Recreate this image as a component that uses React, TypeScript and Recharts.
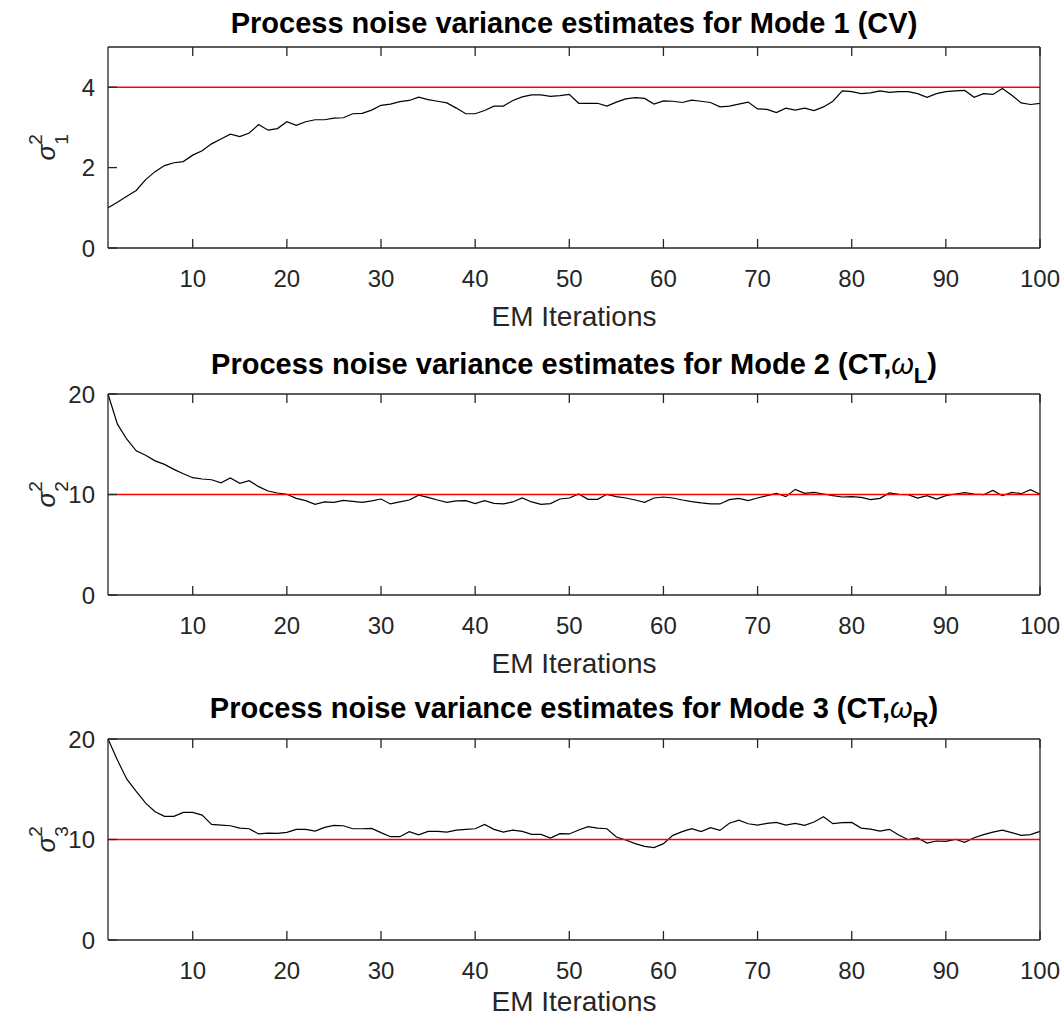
import { LineChart, Line, XAxis, YAxis, ReferenceLine } from 'recharts';

// EM iteration index (x categories)
const iterations = Array.from({ length: 100 }, (_, i) => i + 1);

const mode1 = [
  1.0, 1.14, 1.29, 1.43, 1.7, 1.9, 2.05, 2.12, 2.15, 2.31,
  2.42, 2.59, 2.71, 2.83, 2.77, 2.86, 3.07, 2.93, 2.97, 3.14,
  3.05, 3.14, 3.19, 3.19, 3.23, 3.24, 3.34, 3.35, 3.43, 3.55,
  3.58, 3.64, 3.67, 3.75, 3.69, 3.65, 3.61, 3.48, 3.34, 3.34,
  3.42, 3.53, 3.53, 3.67, 3.76, 3.81, 3.81, 3.77, 3.79, 3.82,
  3.6, 3.6, 3.6, 3.53, 3.63, 3.71, 3.74, 3.72, 3.58, 3.66,
  3.65, 3.62, 3.68, 3.65, 3.62, 3.51, 3.53, 3.58, 3.63, 3.46,
  3.45, 3.37, 3.48, 3.43, 3.48, 3.42, 3.51, 3.65, 3.91, 3.89,
  3.84, 3.86, 3.91, 3.87, 3.89, 3.89, 3.84, 3.75, 3.84, 3.89,
  3.91, 3.92, 3.75, 3.84, 3.82, 3.97, 3.8, 3.61, 3.57, 3.6,
];

const mode2 = [
  20.0, 17.0, 15.5, 14.35, 13.9, 13.35, 13.0, 12.5, 12.07, 11.67,
  11.54, 11.47, 11.17, 11.64, 11.11, 11.37, 10.78, 10.35, 10.15, 10.02,
  9.62, 9.39, 9.02, 9.26, 9.22, 9.42, 9.32, 9.22, 9.36, 9.55,
  9.06, 9.26, 9.45, 9.94, 9.72, 9.45, 9.22, 9.36, 9.39, 9.09,
  9.39, 9.12, 9.06, 9.26, 9.65, 9.26, 9.02, 9.09, 9.55, 9.65,
  10.05, 9.52, 9.52, 10.02, 9.79, 9.65, 9.45, 9.22, 9.65, 9.75,
  9.65, 9.45, 9.29, 9.16, 9.06, 9.06, 9.49, 9.62, 9.39, 9.65,
  9.88, 10.12, 9.79, 10.51, 10.12, 10.21, 10.05, 9.88, 9.75, 9.79,
  9.72, 9.49, 9.62, 10.15, 10.02, 9.98, 9.65, 9.88, 9.55, 9.88,
  10.05, 10.18, 10.05, 9.98, 10.41, 9.88, 10.21, 10.08, 10.48, 10.02,
];

const mode3 = [
  20.0, 17.9, 16.0, 14.78, 13.62, 12.76, 12.3, 12.3, 12.69, 12.69,
  12.43, 11.5, 11.44, 11.37, 11.14, 11.07, 10.55, 10.64, 10.61, 10.71,
  11.01, 11.01, 10.84, 11.21, 11.4, 11.37, 11.07, 11.07, 11.11, 10.68,
  10.28, 10.28, 10.78, 10.46, 10.81, 10.81, 10.74, 10.94, 11.01, 11.07,
  11.5, 11.01, 10.74, 10.94, 10.81, 10.51, 10.51, 10.15, 10.58, 10.55,
  10.94, 11.27, 11.14, 11.07, 10.25, 9.95, 9.59, 9.32, 9.19, 9.59,
  10.41, 10.78, 11.07, 10.78, 11.17, 10.91, 11.62, 11.93, 11.57, 11.44,
  11.6, 11.7, 11.44, 11.6, 11.4, 11.74, 12.26, 11.57, 11.67, 11.7,
  11.14, 11.04, 10.84, 11.01, 10.45, 9.98, 10.15, 9.65, 9.85, 9.82,
  10.02, 9.72, 10.18, 10.48, 10.74, 10.94, 10.68, 10.41, 10.48, 10.81,
];

// true process noise variances (red reference lines)
const trueVariance = [4, 10, 10];

const xTicks = [10, 20, 30, 40, 50, 60, 70, 80, 90, 100];
const yTicksMode1 = [0, 2, 4];
const yTicksMode23 = [0, 10, 20];

const AXIS = '#262626';
const FONT = '"Liberation Sans", Arial, Helvetica, sans-serif';
const TICK_LEN = 9;
const X_GAP = 22; // gap from axis to top of x tick labels
const Y_GAP = 13; // gap from axis to right edge of y tick labels

// inward ticks, MATLAB style
const BottomTick = (props: any) => {
  const { x, y, payload } = props;
  const ay = y - X_GAP;
  return (
    <g>
      <path d={`M${x},${ay}L${x},${ay - TICK_LEN}`} stroke={AXIS} strokeWidth={1.3} fill="none" />
      <text x={x} y={y} dy="0.71em" textAnchor="middle" fill={AXIS} fontSize={24} fontFamily={FONT}>
        {payload.value}
      </text>
    </g>
  );
};

const TopTick = (props: any) => {
  const { x, y } = props;
  return <path d={`M${x},${y}L${x},${y + TICK_LEN}`} stroke={AXIS} strokeWidth={1.3} fill="none" />;
};

const LeftTick = (props: any) => {
  const { x, y, payload } = props;
  const ax = x + Y_GAP;
  return (
    <g>
      <path d={`M${ax},${y}L${ax + TICK_LEN},${y}`} stroke={AXIS} strokeWidth={1.3} fill="none" />
      <text x={x} y={y} dy="0.355em" textAnchor="end" fill={AXIS} fontSize={24} fontFamily={FONT}>
        {payload.value}
      </text>
    </g>
  );
};

const RightTick = (props: any) => {
  const { x, y } = props;
  return <path d={`M${x},${y}L${x - TICK_LEN},${y}`} stroke={AXIS} strokeWidth={1.3} fill="none" />;
};

const SigmaLabel = ({ viewBox, sub }: any) => {
  const cy = viewBox ? viewBox.y + viewBox.height / 2 : 100;
  const bx = 55;
  const by = cy + 13;
  return (
    <text x={bx} y={by} transform={`rotate(-90 ${bx} ${by})`} fill={AXIS} fontFamily={FONT}>
      <tspan fontSize={26} fontStyle="italic">σ</tspan>
      <tspan fontSize={19} dy={-13}>2</tspan>
      <tspan fontSize={19} dx={-10.5} dy={26}>{sub}</tspan>
    </text>
  );
};

const Panel = ({ top, titleTop, title, values, truth, domain, yTicks, sub, labelOffset }: any) => {
  const data = iterations.map((it, i) => ({ it, v: values[i] }));
  const axisLine = { stroke: AXIS, strokeWidth: 1.3 };
  return (
    <>
      <div
        style={{
          position: 'absolute', left: 108, width: 932, top: titleTop, textAlign: 'center',
          fontFamily: FONT, fontWeight: 'bold', fontSize: 29, lineHeight: '30px', color: '#000',
          whiteSpace: 'nowrap',
        }}
      >
        {title}
      </div>
      <div style={{ position: 'absolute', left: 0, top }}>
        <LineChart width={1064} height={330} data={data} margin={{ top: 39, right: 23, bottom: 10, left: 0 }}>
          <XAxis
            xAxisId="b" dataKey="it" type="number" domain={[1, 100]} ticks={xTicks} height={79}
            axisLine={axisLine} tickLine={false} tickSize={0} tickMargin={X_GAP}
            tick={BottomTick}
            label={{ value: 'EM Iterations', position: 'insideBottom', offset: labelOffset, fill: AXIS, fontSize: 28, fontFamily: FONT }}
          />
          <XAxis
            xAxisId="t" orientation="top" dataKey="it" type="number" domain={[1, 100]} ticks={xTicks} height={1}
            axisLine={axisLine} tickLine={false} tickSize={0} tickMargin={0}
            tick={TopTick}
          />
          <YAxis
            yAxisId="l" type="number" domain={domain} ticks={yTicks} width={108} interval={0}
            axisLine={axisLine} tickLine={false} tickSize={0} tickMargin={Y_GAP}
            tick={LeftTick}
            label={<SigmaLabel sub={sub} />}
          />
          <YAxis
            yAxisId="r" orientation="right" type="number" domain={domain} ticks={yTicks} width={1} interval={0}
            axisLine={axisLine} tickLine={false} tickSize={0} tickMargin={0}
            tick={RightTick}
          />
          <Line
            xAxisId="b" yAxisId="l" type="linear" dataKey="v" stroke="#000" strokeWidth={1.2}
            dot={false} isAnimationActive={false}
          />
          <ReferenceLine xAxisId="b" yAxisId="l" y={truth} stroke="#ff0000" strokeWidth={1.5} />
        </LineChart>
      </div>
    </>
  );
};

const scriptStyle = { fontSize: 22, position: 'relative' as const, top: 9 };

export default function App() {
  return (
    <div style={{ position: 'absolute', left: 0, top: 0, width: 1064, height: 1021, background: '#fff', overflow: 'hidden' }}>
      <Panel
        top={6.7} titleTop={7.7} sub="1" values={mode1} truth={trueVariance[0]} domain={[0, 5]} yTicks={yTicksMode1}
        labelOffset={1}
        title={<>Process noise variance estimates for Mode 1 (CV)</>}
      />
      <Panel
        top={354} titleTop={349} sub="2" values={mode2} truth={trueVariance[1]} domain={[0, 20]} yTicks={yTicksMode23}
        labelOffset={1}
        title={<>Process noise variance estimates for Mode 2 (CT,<i style={{ fontWeight: 'normal' }}>ω</i><span style={scriptStyle}>L</span>)</>}
      />
      <Panel
        top={699} titleTop={693} sub="3" values={mode3} truth={trueVariance[2]} domain={[0, 20]} yTicks={yTicksMode23}
        labelOffset={8}
        title={<>Process noise variance estimates for Mode 3 (CT,<i style={{ fontWeight: 'normal' }}>ω</i><span style={scriptStyle}>R</span>)</>}
      />
    </div>
  );
}
